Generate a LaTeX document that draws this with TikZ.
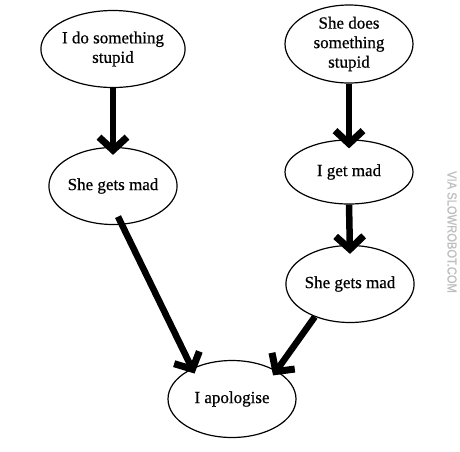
\documentclass[tikz,border=0pt]{standalone}
\usepackage{fontspec}
\setmainfont{Liberation Serif}[FakeBold=0.6]
\newfontfamily\wmfont{Liberation Sans}[FakeBold=1]
\usetikzlibrary{shapes.geometric,arrows.meta}
\tikzset{
  bubble/.style={ellipse, draw=black, line width=1.2pt, fill=white, inner sep=0pt,
    minimum width=128pt, minimum height=77pt, align=center,
    font=\fontsize{17pt}{19.5pt}\selectfont},
  bigarrow/.style={line width=6.5pt, -{Straight Barb[length=13pt,width=28pt,line width=7pt]}}
}
\begin{document}
\begin{tikzpicture}[x=1pt,y=1pt]
\useasboundingbox[fill=white] (0,0) rectangle (460,-451);
\node[bubble] (n1) at (113,-49) {I do something\\stupid};
\node[bubble] (n2) at (113,-186) {She gets mad};
\node[bubble, minimum height=78pt] (n3) at (349,-44) {She does\\something\\stupid};
\node[bubble, minimum height=64pt] (n4) at (349,-172) {I get mad};
\node[bubble] (n5) at (350,-284) {She gets mad};
\node[bubble] (n6) at (232,-399) {I apologise};
\draw[bigarrow] (n1.south) -- ([yshift=-8pt]n2.north);
\draw[bigarrow] (n3.south) -- ([yshift=-9pt]n4.north);
\draw[bigarrow] (n4.south) -- ([yshift=-9pt]n5.north);
\draw[bigarrow, shorten <=-9pt] (n2.-77) -- ([shift={(3pt,-5pt)}]n6.143);
\draw[bigarrow] (n5.223) -- ([shift={(-3pt,-5pt)}]n6.33);
\node[rotate=-90, text=black!25, font=\wmfont\fontsize{13pt}{14pt}\selectfont, xscale=0.86] (wm) at (452,-232) {VIA SLOWROBOT.COM};
\end{tikzpicture}
\end{document}
